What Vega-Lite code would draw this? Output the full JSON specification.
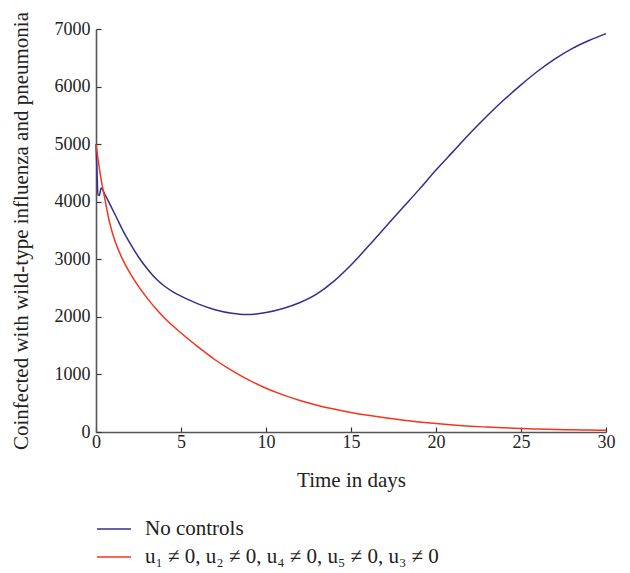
{
  "$schema": "https://vega.github.io/schema/vega-lite/v6.json",
  "autosize": "none",
  "width": 510,
  "height": 403,
  "padding": {"left": 96, "top": 29, "right": 24, "bottom": 141},
  "background": "white",
  "config": {
    "view": {"stroke": null},
    "font": "Liberation Serif",
    "axis": {"grid": false, "domainColor": "#555555", "domainWidth": 1.6, "tickColor": "#333333", "tickWidth": 1.2, "labelFont": "Liberation Serif", "titleFont": "Liberation Serif", "labelColor": "#222222", "titleColor": "#222222", "labelFontSize": 18, "titleFontSize": 21, "titleFontWeight": "normal"}
  },
  "datasets": {
    "curves": [
      {"t": 0, "v": 5000, "s": "No controls"},
      {"t": 0.05, "v": 4600, "s": "No controls"},
      {"t": 0.12, "v": 4120, "s": "No controls"},
      {"t": 0.2, "v": 4110, "s": "No controls"},
      {"t": 0.3, "v": 4240, "s": "No controls"},
      {"t": 0.5, "v": 4140, "s": "No controls"},
      {"t": 0.88, "v": 3920, "s": "No controls"},
      {"t": 1.2, "v": 3730, "s": "No controls"},
      {"t": 1.6, "v": 3490, "s": "No controls"},
      {"t": 2, "v": 3280, "s": "No controls"},
      {"t": 2.5, "v": 3040, "s": "No controls"},
      {"t": 3, "v": 2840, "s": "No controls"},
      {"t": 3.5, "v": 2670, "s": "No controls"},
      {"t": 4, "v": 2540, "s": "No controls"},
      {"t": 4.5, "v": 2440, "s": "No controls"},
      {"t": 5, "v": 2360, "s": "No controls"},
      {"t": 5.5, "v": 2290, "s": "No controls"},
      {"t": 6, "v": 2225, "s": "No controls"},
      {"t": 7, "v": 2125, "s": "No controls"},
      {"t": 8, "v": 2062, "s": "No controls"},
      {"t": 8.8, "v": 2040, "s": "No controls"},
      {"t": 10, "v": 2075, "s": "No controls"},
      {"t": 11, "v": 2145, "s": "No controls"},
      {"t": 12, "v": 2250, "s": "No controls"},
      {"t": 13, "v": 2400, "s": "No controls"},
      {"t": 14, "v": 2620, "s": "No controls"},
      {"t": 15, "v": 2900, "s": "No controls"},
      {"t": 16, "v": 3220, "s": "No controls"},
      {"t": 17, "v": 3550, "s": "No controls"},
      {"t": 18, "v": 3880, "s": "No controls"},
      {"t": 19, "v": 4210, "s": "No controls"},
      {"t": 20, "v": 4550, "s": "No controls"},
      {"t": 21, "v": 4870, "s": "No controls"},
      {"t": 22, "v": 5190, "s": "No controls"},
      {"t": 23, "v": 5490, "s": "No controls"},
      {"t": 24, "v": 5770, "s": "No controls"},
      {"t": 25, "v": 6030, "s": "No controls"},
      {"t": 26, "v": 6270, "s": "No controls"},
      {"t": 27, "v": 6480, "s": "No controls"},
      {"t": 28, "v": 6660, "s": "No controls"},
      {"t": 29, "v": 6800, "s": "No controls"},
      {"t": 30, "v": 6920, "s": "No controls"},
      {"t": 0, "v": 5000, "s": "u₁ ≠ 0, u₂ ≠ 0, u₄ ≠ 0, u₅ ≠ 0, u₃ ≠ 0"},
      {"t": 0.25, "v": 4480, "s": "u₁ ≠ 0, u₂ ≠ 0, u₄ ≠ 0, u₅ ≠ 0, u₃ ≠ 0"},
      {"t": 0.5, "v": 4080, "s": "u₁ ≠ 0, u₂ ≠ 0, u₄ ≠ 0, u₅ ≠ 0, u₃ ≠ 0"},
      {"t": 0.79, "v": 3650, "s": "u₁ ≠ 0, u₂ ≠ 0, u₄ ≠ 0, u₅ ≠ 0, u₃ ≠ 0"},
      {"t": 1.1, "v": 3330, "s": "u₁ ≠ 0, u₂ ≠ 0, u₄ ≠ 0, u₅ ≠ 0, u₃ ≠ 0"},
      {"t": 1.58, "v": 2990, "s": "u₁ ≠ 0, u₂ ≠ 0, u₄ ≠ 0, u₅ ≠ 0, u₃ ≠ 0"},
      {"t": 2, "v": 2760, "s": "u₁ ≠ 0, u₂ ≠ 0, u₄ ≠ 0, u₅ ≠ 0, u₃ ≠ 0"},
      {"t": 2.5, "v": 2530, "s": "u₁ ≠ 0, u₂ ≠ 0, u₄ ≠ 0, u₅ ≠ 0, u₃ ≠ 0"},
      {"t": 3, "v": 2330, "s": "u₁ ≠ 0, u₂ ≠ 0, u₄ ≠ 0, u₅ ≠ 0, u₃ ≠ 0"},
      {"t": 3.5, "v": 2150, "s": "u₁ ≠ 0, u₂ ≠ 0, u₄ ≠ 0, u₅ ≠ 0, u₃ ≠ 0"},
      {"t": 4, "v": 1990, "s": "u₁ ≠ 0, u₂ ≠ 0, u₄ ≠ 0, u₅ ≠ 0, u₃ ≠ 0"},
      {"t": 4.5, "v": 1850, "s": "u₁ ≠ 0, u₂ ≠ 0, u₄ ≠ 0, u₅ ≠ 0, u₃ ≠ 0"},
      {"t": 5, "v": 1720, "s": "u₁ ≠ 0, u₂ ≠ 0, u₄ ≠ 0, u₅ ≠ 0, u₃ ≠ 0"},
      {"t": 6, "v": 1480, "s": "u₁ ≠ 0, u₂ ≠ 0, u₄ ≠ 0, u₅ ≠ 0, u₃ ≠ 0"},
      {"t": 7, "v": 1255, "s": "u₁ ≠ 0, u₂ ≠ 0, u₄ ≠ 0, u₅ ≠ 0, u₃ ≠ 0"},
      {"t": 8, "v": 1065, "s": "u₁ ≠ 0, u₂ ≠ 0, u₄ ≠ 0, u₅ ≠ 0, u₃ ≠ 0"},
      {"t": 9, "v": 900, "s": "u₁ ≠ 0, u₂ ≠ 0, u₄ ≠ 0, u₅ ≠ 0, u₃ ≠ 0"},
      {"t": 10, "v": 760, "s": "u₁ ≠ 0, u₂ ≠ 0, u₄ ≠ 0, u₅ ≠ 0, u₃ ≠ 0"},
      {"t": 11, "v": 645, "s": "u₁ ≠ 0, u₂ ≠ 0, u₄ ≠ 0, u₅ ≠ 0, u₃ ≠ 0"},
      {"t": 12, "v": 548, "s": "u₁ ≠ 0, u₂ ≠ 0, u₄ ≠ 0, u₅ ≠ 0, u₃ ≠ 0"},
      {"t": 13, "v": 466, "s": "u₁ ≠ 0, u₂ ≠ 0, u₄ ≠ 0, u₅ ≠ 0, u₃ ≠ 0"},
      {"t": 14, "v": 398, "s": "u₁ ≠ 0, u₂ ≠ 0, u₄ ≠ 0, u₅ ≠ 0, u₃ ≠ 0"},
      {"t": 15, "v": 340, "s": "u₁ ≠ 0, u₂ ≠ 0, u₄ ≠ 0, u₅ ≠ 0, u₃ ≠ 0"},
      {"t": 16, "v": 290, "s": "u₁ ≠ 0, u₂ ≠ 0, u₄ ≠ 0, u₅ ≠ 0, u₃ ≠ 0"},
      {"t": 17, "v": 246, "s": "u₁ ≠ 0, u₂ ≠ 0, u₄ ≠ 0, u₅ ≠ 0, u₃ ≠ 0"},
      {"t": 18, "v": 208, "s": "u₁ ≠ 0, u₂ ≠ 0, u₄ ≠ 0, u₅ ≠ 0, u₃ ≠ 0"},
      {"t": 19, "v": 175, "s": "u₁ ≠ 0, u₂ ≠ 0, u₄ ≠ 0, u₅ ≠ 0, u₃ ≠ 0"},
      {"t": 20, "v": 146, "s": "u₁ ≠ 0, u₂ ≠ 0, u₄ ≠ 0, u₅ ≠ 0, u₃ ≠ 0"},
      {"t": 21, "v": 122, "s": "u₁ ≠ 0, u₂ ≠ 0, u₄ ≠ 0, u₅ ≠ 0, u₃ ≠ 0"},
      {"t": 22, "v": 102, "s": "u₁ ≠ 0, u₂ ≠ 0, u₄ ≠ 0, u₅ ≠ 0, u₃ ≠ 0"},
      {"t": 23, "v": 86, "s": "u₁ ≠ 0, u₂ ≠ 0, u₄ ≠ 0, u₅ ≠ 0, u₃ ≠ 0"},
      {"t": 24, "v": 72, "s": "u₁ ≠ 0, u₂ ≠ 0, u₄ ≠ 0, u₅ ≠ 0, u₃ ≠ 0"},
      {"t": 25, "v": 60, "s": "u₁ ≠ 0, u₂ ≠ 0, u₄ ≠ 0, u₅ ≠ 0, u₃ ≠ 0"},
      {"t": 26, "v": 51, "s": "u₁ ≠ 0, u₂ ≠ 0, u₄ ≠ 0, u₅ ≠ 0, u₃ ≠ 0"},
      {"t": 27, "v": 44, "s": "u₁ ≠ 0, u₂ ≠ 0, u₄ ≠ 0, u₅ ≠ 0, u₃ ≠ 0"},
      {"t": 28, "v": 38, "s": "u₁ ≠ 0, u₂ ≠ 0, u₄ ≠ 0, u₅ ≠ 0, u₃ ≠ 0"},
      {"t": 29, "v": 33, "s": "u₁ ≠ 0, u₂ ≠ 0, u₄ ≠ 0, u₅ ≠ 0, u₃ ≠ 0"},
      {"t": 30, "v": 29, "s": "u₁ ≠ 0, u₂ ≠ 0, u₄ ≠ 0, u₅ ≠ 0, u₃ ≠ 0"}
    ]
  },
  "data": {"name": "curves"},
  "mark": {"type": "line", "interpolate": "monotone", "strokeWidth": 1.5},
  "encoding": {
    "x": {
      "field": "t", "type": "quantitative",
      "scale": {"domain": [0, 30], "nice": false, "zero": false},
      "axis": {"title": "Time in days", "format": "d", "values": [0, 5, 10, 15, 20, 25, 30], "tickSize": -5, "labelPadding": 6, "titlePadding": 18, "labelFlush": false}
    },
    "y": {
      "field": "v", "type": "quantitative",
      "scale": {"domain": [0, 7000], "nice": false},
      "axis": {"title": "Coinfected with wild-type influenza and pneumonia", "format": "d", "values": [0, 1000, 2000, 3000, 4000, 5000, 6000, 7000], "tickSize": -5, "labelPadding": 11, "titlePadding": 23, "labelFlush": false}
    },
    "color": {
      "field": "s", "type": "nominal",
      "sort": ["No controls", "u₁ ≠ 0, u₂ ≠ 0, u₄ ≠ 0, u₅ ≠ 0, u₃ ≠ 0"],
      "scale": {"domain": ["No controls", "u₁ ≠ 0, u₂ ≠ 0, u₄ ≠ 0, u₅ ≠ 0, u₃ ≠ 0"], "range": ["#352e92", "#f8331c"]},
      "legend": {
        "title": null, "orient": "none", "legendX": 0, "legendY": 482, "padding": 0,
        "symbolType": "stroke", "symbolSize": 1156, "symbolStrokeWidth": 1.5,
        "labelFont": "Liberation Serif", "labelFontSize": 21, "labelColor": "#222222", "labelOffset": 13, "rowPadding": -6, "labelLimit": 500
      }
    }
  }
}
